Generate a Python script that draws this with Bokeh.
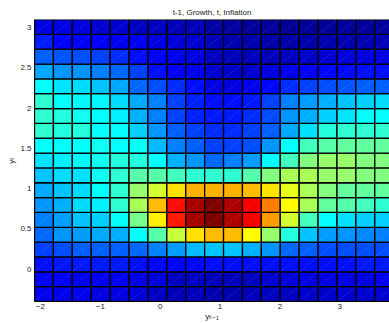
import numpy as np
from bokeh.plotting import figure
from bokeh.models import ColumnDataSource, LinearColorMapper, FixedTicker, Span, Range1d
from bokeh.embed import file_html
from bokeh.resources import INLINE

title_text = "t-1, Growth, t, Inflation"
x_label = "y\u209c\u208b\u2081"
y_label = "y\u209c"

x_edges = np.linspace(-2.1, 3.9, 20)
y_edges = np.linspace(-0.4, 3.1, 20)

x_ticks = [-2, -1, 0, 1, 2, 3]
x_tick_labels = ["\u22122", "\u22121", "0", "1", "2", "3"]
y_ticks = [0, 0.5, 1, 1.5, 2, 2.5, 3]
y_tick_labels = ["0", "0.5", "1", "1.5", "2", "2.5", "3"]

# colour-scale values (0..1) per cell; rows listed from the top (y~3.0) down, columns left to right
density_rows = [
    [0.10, 0.10, 0.09, 0.08, 0.08, 0.07, 0.07, 0.06, 0.06, 0.04, 0.035, 0.03, 0.03, 0.025, 0.025, 0.025, 0.03, 0.03, 0.035],
    [0.155, 0.125, 0.12, 0.12, 0.11, 0.11, 0.10, 0.09, 0.08, 0.06, 0.05, 0.045, 0.04, 0.04, 0.04, 0.045, 0.05, 0.05, 0.055],
    [0.22, 0.21, 0.20, 0.19, 0.17, 0.14, 0.12, 0.11, 0.10, 0.07, 0.06, 0.06, 0.06, 0.07, 0.075, 0.085, 0.09, 0.095, 0.10],
    [0.29, 0.27, 0.27, 0.25, 0.23, 0.19, 0.14, 0.12, 0.11, 0.08, 0.075, 0.075, 0.09, 0.11, 0.12, 0.13, 0.135, 0.14, 0.14],
    [0.375, 0.35, 0.34, 0.32, 0.29, 0.23, 0.20, 0.17, 0.14, 0.10, 0.10, 0.11, 0.13, 0.17, 0.19, 0.20, 0.21, 0.22, 0.22],
    [0.42, 0.375, 0.37, 0.37, 0.34, 0.29, 0.25, 0.19, 0.16, 0.14, 0.14, 0.15, 0.19, 0.25, 0.28, 0.30, 0.32, 0.33, 0.34],
    [0.42, 0.41, 0.39, 0.375, 0.36, 0.30, 0.25, 0.19, 0.16, 0.15, 0.15, 0.17, 0.20, 0.27, 0.30, 0.33, 0.35, 0.375, 0.375],
    [0.42, 0.41, 0.41, 0.38, 0.375, 0.33, 0.27, 0.22, 0.19, 0.17, 0.17, 0.19, 0.22, 0.29, 0.345, 0.41, 0.42, 0.42, 0.42],
    [0.375, 0.375, 0.375, 0.39, 0.375, 0.38, 0.31, 0.25, 0.22, 0.19, 0.19, 0.20, 0.27, 0.375, 0.44, 0.46, 0.47, 0.47, 0.47],
    [0.35, 0.36, 0.37, 0.39, 0.41, 0.41, 0.375, 0.30, 0.27, 0.23, 0.25, 0.28, 0.375, 0.44, 0.50, 0.52, 0.52, 0.50, 0.50],
    [0.32, 0.34, 0.345, 0.39, 0.42, 0.46, 0.46, 0.44, 0.42, 0.42, 0.42, 0.46, 0.50, 0.54, 0.54, 0.52, 0.52, 0.50, 0.50],
    [0.29, 0.32, 0.34, 0.375, 0.42, 0.52, 0.58, 0.655, 0.70, 0.70, 0.70, 0.69, 0.65, 0.60, 0.54, 0.50, 0.47, 0.47, 0.47],
    [0.27, 0.30, 0.34, 0.36, 0.42, 0.54, 0.69, 0.86, 0.96, 1.00, 0.95, 0.88, 0.75, 0.625, 0.54, 0.47, 0.46, 0.44, 0.42],
    [0.25, 0.28, 0.32, 0.33, 0.38, 0.49, 0.64, 0.85, 0.96, 1.00, 0.95, 0.88, 0.72, 0.58, 0.44, 0.375, 0.345, 0.33, 0.33],
    [0.23, 0.27, 0.28, 0.29, 0.30, 0.375, 0.46, 0.57, 0.655, 0.69, 0.69, 0.625, 0.52, 0.41, 0.32, 0.28, 0.27, 0.26, 0.25],
    [0.19, 0.20, 0.22, 0.22, 0.22, 0.23, 0.25, 0.28, 0.31, 0.32, 0.32, 0.30, 0.27, 0.23, 0.22, 0.20, 0.20, 0.20, 0.20],
    [0.14, 0.15, 0.15, 0.15, 0.15, 0.14, 0.13, 0.125, 0.13, 0.14, 0.14, 0.14, 0.14, 0.14, 0.14, 0.14, 0.14, 0.15, 0.15],
    [0.12, 0.12, 0.11, 0.11, 0.11, 0.10, 0.09, 0.07, 0.07, 0.06, 0.06, 0.065, 0.08, 0.09, 0.10, 0.10, 0.10, 0.10, 0.11],
    [0.11, 0.11, 0.11, 0.10, 0.10, 0.09, 0.07, 0.06, 0.06, 0.05, 0.05, 0.06, 0.065, 0.07, 0.075, 0.075, 0.08, 0.08, 0.08],
]


def jet_palette(n=256):
    cols = []
    for i in range(n):
        v = i / (n - 1)
        r = min(max(min(4 * v - 1.5, -4 * v + 4.5), 0), 1)
        g = min(max(min(4 * v - 0.5, -4 * v + 3.5), 0), 1)
        b = min(max(min(4 * v + 0.5, -4 * v + 2.5), 0), 1)
        cols.append("#%02x%02x%02x" % (int(round(r * 255)), int(round(g * 255)), int(round(b * 255))))
    return cols


left, right, bottom, top, val = [], [], [], [], []
for k, row in enumerate(density_rows[::-1]):
    for i, v in enumerate(row):
        left.append(x_edges[i])
        right.append(x_edges[i + 1])
        bottom.append(y_edges[k])
        top.append(y_edges[k + 1])
        val.append(v)
src = ColumnDataSource(dict(left=left, right=right, bottom=bottom, top=top, val=val))
mapper = LinearColorMapper(palette=jet_palette(), low=0, high=1)

FONT = "Liberation Sans, DejaVu Sans"
p = figure(width=389, height=323, output_backend="svg", toolbar_location=None,
           title=title_text,
           x_range=Range1d(-2.1, 3.83), y_range=Range1d(-0.4, 3.1),
           min_border_left=34, min_border_right=0, min_border_top=19, min_border_bottom=22)
p.background_fill_color = "white"
p.border_fill_color = "white"
p.outline_line_color = None
p.grid.visible = False

p.title.align = "center"
p.title.text_font = FONT
p.title.text_font_size = "8px"
p.title.text_font_style = "normal"
p.title.text_color = "#222222"
p.title.standoff = 6

p.quad(left="left", right="right", bottom="bottom", top="top", source=src,
       fill_color={"field": "val", "transform": mapper}, line_color="black", line_width=1.3)
p.segment(x0="left", y0="bottom", x1="right", y1="top", source=src,
          line_color="white", line_alpha=0.3, line_width=0.6, line_dash="1 1")

p.add_layout(Span(location=y_edges[-1], dimension="width", line_color="#888888", line_width=1))

for ax in (p.xaxis[0], p.yaxis[0]):
    ax.major_tick_line_color = None
    ax.minor_tick_line_color = None
    ax.major_tick_out = 0
    ax.major_tick_in = 0
    ax.minor_tick_out = 0
    ax.minor_tick_in = 0
    ax.axis_line_color = "black"
    ax.major_label_text_font = FONT
    ax.major_label_text_font_size = "8px"
    ax.major_label_text_color = "#222222"
    ax.major_label_standoff = 3
    ax.axis_label_text_font = FONT
    ax.axis_label_text_font_size = "8px"
    ax.axis_label_text_font_style = "normal"
    ax.axis_label_text_color = "#222222"
    ax.axis_label_standoff = 1
p.xaxis.major_label_standoff = 2
p.xaxis.axis_label_standoff = 0
p.yaxis.axis_label_standoff = 1
p.xaxis.ticker = FixedTicker(ticks=x_ticks)
p.xaxis.major_label_overrides = dict(zip(x_ticks, x_tick_labels))
p.yaxis.ticker = FixedTicker(ticks=y_ticks)
p.yaxis.major_label_overrides = dict(zip(y_ticks, y_tick_labels))
p.xaxis.axis_label = x_label
p.yaxis.axis_label = y_label

open("out.html", "w").write(file_html(p, INLINE))
